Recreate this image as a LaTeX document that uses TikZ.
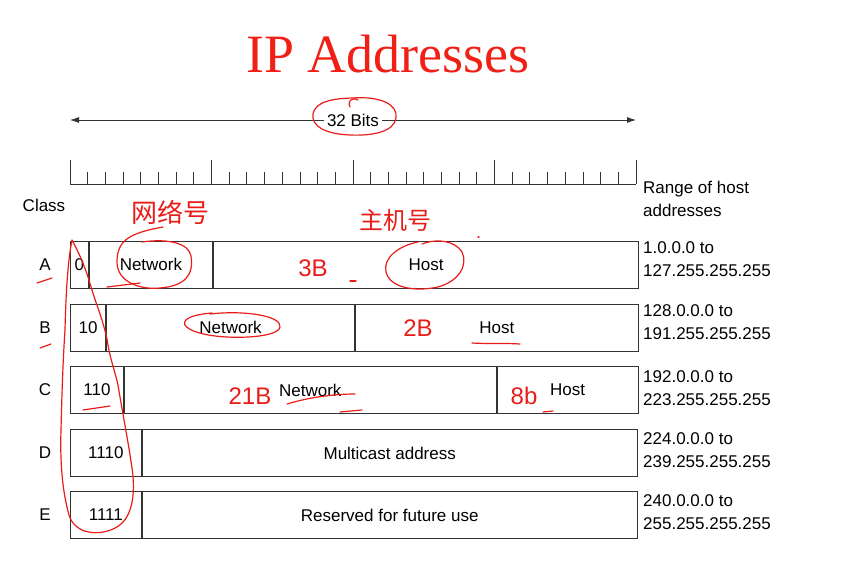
\documentclass[tikz,border=0pt]{standalone}
\usepackage{fontspec}
\setmainfont{Liberation Sans}
\newfontfamily\titlefont{Liberation Serif}
\newfontfamily\cjk{Noto Sans CJK SC}
\usetikzlibrary{arrows.meta}

\definecolor{titlered}{RGB}{240,32,22}
\definecolor{penred}{RGB}{232,28,24}

\begin{document}
\begin{tikzpicture}[x=1pt,y=-1pt,
  every node/.style={font=\fontsize{17}{23}\selectfont},
  field/.style={draw=black!80, line width=0.9pt, rectangle, inner sep=0pt,
    minimum height=47pt, anchor=west},
  rangetxt/.style={anchor=west, align=left, inner sep=0pt},
  classtxt/.style={inner sep=0pt},
  ink/.style={draw=penred, line width=1.2pt, line cap=round, line join=round},
  inktxt/.style={text=penred, inner sep=0pt},
  bitline/.style={draw=black!80, line width=0.8pt}
]
\useasboundingbox (0,0) rectangle (859,569);

% title
\node[anchor=base, text=titlered, font=\titlefont\fontsize{54}{60}\selectfont] (title) at (388,73) {IP Addresses};

% 32-bit span arrow
\coordinate (arrL) at (70,120);
\coordinate (arrR) at (636,120);
\node[inner sep=3pt] (bits) at (353,120) {32 Bits};
\draw[bitline, -{Latex[length=9pt,width=6pt]}] (bits) -- (arrL);
\draw[bitline, -{Latex[length=9pt,width=6pt]}] (bits) -- (arrR);

% bit ruler
\coordinate (rulL) at (70,184);
\coordinate (rulR) at (636,184);
\draw[bitline] (rulL) -- (rulR);
\foreach \i in {0,...,32} {\draw[bitline] (70+\i*17.6875,184) -- ++(0,-12);}
\foreach \i in {0,8,...,32} {\draw[bitline] (70+\i*17.6875,184) -- ++(0,-24);}

% headers
\node[classtxt] (cls) at (44,205) {Class};
\node[rangetxt] (rng) at (643,198.5) {Range of host\\addresses};

% class A
\node[classtxt] (la) at (45,264.5) {A};
\node[field, minimum width=17.69pt] (a0) at (70,264.5) {0};
\node[field, minimum width=123.81pt] (a1) at (a0.east) {Network};
\node[field, minimum width=424.5pt] (a2) at (a1.east) {Host};
\node[rangetxt] (ra) at (643,259.5) {1.0.0.0 to\\127.255.255.255};

% class B
\node[classtxt] (lb) at (45,327.5) {B};
\node[field, minimum width=35.375pt] (b0) at (70,327.5) {10};
\node[field, minimum width=247.625pt] (b1) at (b0.east) {Network};
\node[field, minimum width=283pt] (b2) at (b1.east) {Host};
\node[rangetxt] (rb) at (643,322.5) {128.0.0.0 to\\191.255.255.255};

% class C
\node[classtxt] (lc) at (45,390) {C};
\node[field, minimum width=53.06pt] (c0) at (70,390) {110};
\node[field, minimum width=371.75pt] (c1) at (c0.east) {Network};
\node[field, minimum width=141.19pt] (c2) at (c1.east) {Host};
\node[rangetxt] (rc) at (643,388.5) {192.0.0.0 to\\223.255.255.255};

% class D
\node[classtxt] (ld) at (45,453) {D};
\node[field, minimum width=70.75pt] (d0) at (70,453) {1110};
\node[field, minimum width=495.25pt] (d1) at (d0.east) {Multicast address};
\node[rangetxt] (rd) at (643,450.5) {224.0.0.0 to\\239.255.255.255};

% class E
\node[classtxt] (le) at (45,515) {E};
\node[field, minimum width=70.75pt] (e0) at (70,515) {1111};
\node[field, minimum width=495.25pt] (e1) at (e0.east) {Reserved for future use};
\node[rangetxt] (re) at (643,512.5) {240.0.0.0 to\\255.255.255.255};

% ---- red pen notes ----
% ring round "32 Bits"
\draw[ink] (352,98) .. controls (380,96) and (398,104) .. (396,118)
  .. controls (394,132) and (372,136) .. (350,135)
  .. controls (325,134) and (311,126) .. (313,114)
  .. controls (315,102) and (332,98) .. (356,98);
\draw[ink] (358,100) .. controls (352,97) and (347,101) .. (350,107);

% handwritten words
\node[inktxt, font=\cjk\fontsize{26}{28}\selectfont] (wl) at (170,212) {网络号};
\node[inktxt, font=\cjk\fontsize{24}{28}\selectfont] (zj) at (395,220) {主机号};
\node[inktxt, font=\fontsize{24}{26}\selectfont] (n3) at (313,268) {3B};
\node[inktxt, font=\fontsize{24}{26}\selectfont] (n2) at (418,328) {2B};
\node[inktxt, font=\fontsize{24}{26}\selectfont] (n21) at (250,396) {21B};
\node[inktxt, font=\fontsize{24}{26}\selectfont] (n8) at (524,396) {8b};

% ring round class A network
\draw[ink] (163,227) .. controls (130,233) and (117,240) .. (117,262)
  .. controls (117,282) and (140,290) .. (160,288)
  .. controls (185,286) and (194,275) .. (191,256)
  .. controls (189,244) and (170,238) .. (142,242);
\draw[ink] (107,287) -- (140,283);
% ring round class A host
\draw[ink] (418,242) .. controls (398,246) and (383,258) .. (386,272)
  .. controls (390,288) and (415,292) .. (438,287)
  .. controls (460,281) and (468,264) .. (462,252)
  .. controls (455,241) and (438,238) .. (422,244);
% ring round class B network
\draw[ink] (210,314) .. controls (245,310) and (282,316) .. (280,327)
  .. controls (278,337) and (240,339) .. (215,336)
  .. controls (192,333) and (180,326) .. (186,320)
  .. controls (190,316) and (200,314) .. (212,313);

% loop round the class prefixes
\draw[ink] (72,240) .. controls (80,255) and (84,265) .. (88,277)
  .. controls (92,290) and (95,300) .. (98,308)
  .. controls (102,320) and (106,332) .. (108,345)
  .. controls (111,362) and (116,375) .. (118,385)
  .. controls (122,410) and (128,440) .. (132,468)
  .. controls (136,495) and (132,520) .. (115,528)
  .. controls (100,536) and (75,535) .. (69,515)
  .. controls (62,490) and (60,460) .. (61,430)
  .. controls (62,390) and (63,360) .. (65,330)
  .. controls (66,290) and (68,260) .. (72,240);

% small strokes
\draw[ink] (37,283) -- (52,278);
\draw[ink] (40,348) -- (51,344);
\draw[ink] (83,410) -- (110,406);
\draw[ink] (350,281) -- (356,281);
\draw[ink] (478,237) -- (479,237);
\draw[ink] (472,343) .. controls (490,344) and (505,343) .. (520,344);
\draw[ink] (287,404) .. controls (310,397) and (335,394) .. (355,394);
\draw[ink] (340,412) -- (362,410);
\draw[ink] (543,412) -- (553,411);
\end{tikzpicture}
\end{document}
